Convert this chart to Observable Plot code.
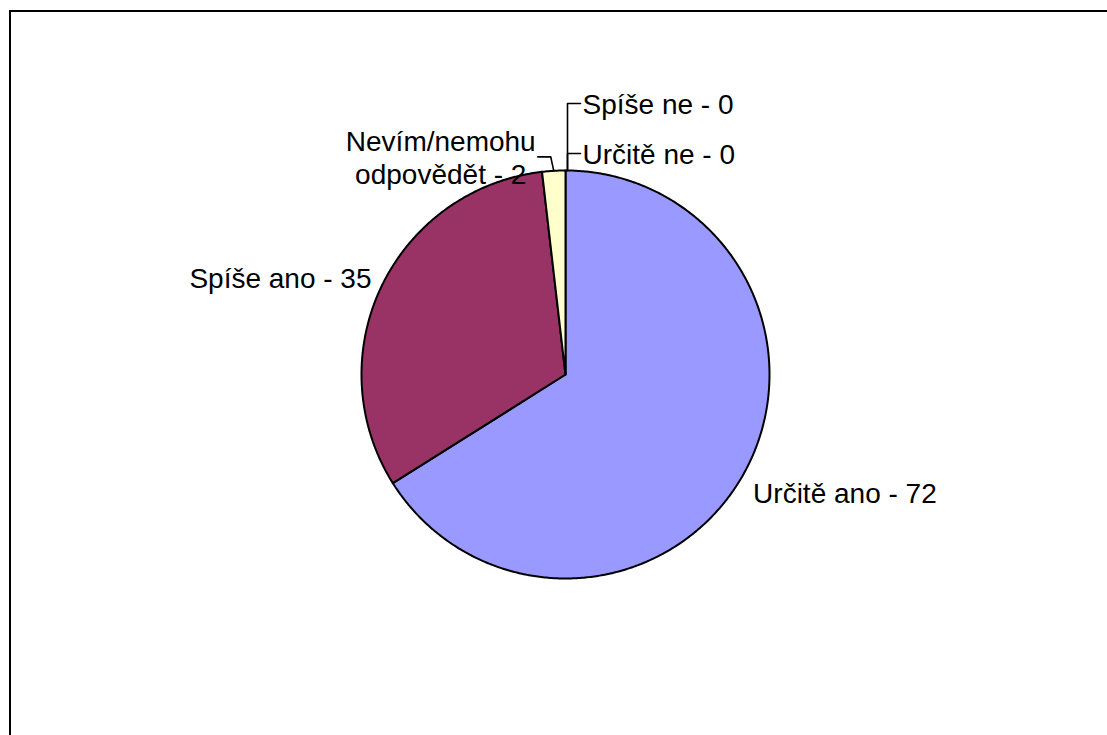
<!DOCTYPE html>
<html>
<head>
<meta charset="utf-8">
<script src="https://cdn.jsdelivr.net/npm/d3@7"></script>
<script src="https://cdn.jsdelivr.net/npm/@observablehq/plot@0.6"></script>
<style>
  html, body { margin: 0; padding: 0; background: #fff; overflow: hidden; }
  #wrap { position: relative; width: 1107px; height: 735px; overflow: hidden; }
  #frame { position: absolute; left: 9px; top: 10px; width: 1200px; height: 800px; border: 2px solid #000; box-sizing: border-box; pointer-events: none; }
  #chart { position: absolute; left: 0; top: 0; }
</style>
</head>
<body>
<div id="wrap"><div id="chart"></div><div id="frame"></div></div>
<script>
// ---- data ----
const categories = ["Určitě ano", "Spíše ano", "Nevím/nemohu odpovědět", "Spíše ne", "Určitě ne"];
const values = [72, 35, 2, 0, 0];
const labelTexts = ["Určitě ano - 72", "Spíše ano - 35", "Nevím/nemohu\nodpovědět - 2", "Spíše ne - 0", "Určitě ne - 0"];
const colors = ["#9999FF", "#993366", "#FFFFCC", "#00FFFF", "#660066"];

// ---- layout (pixels) ----
const W = 1107, H = 735, cx = 565, cy = 374, R = 204;
// label offsets from the slice's outer mid-point, in px
const labelDx = [9, -10, -113, 17, 17];
const labelDy = [19, -9, -14, -67, -17];
const labelAnchor = ["start", "end", "middle", "start", "start"];
// leader bends (px offsets from anchor); null = no leader
const leaderPaths = [
  null,
  null,
  [[0, 0], [-3, -14], [-16, -14]],
  [[2, 0], [2, -67], [15, -67]],
  [[2, 0], [2, -17], [15, -17]]
];

const arcs = d3.pie().sort(null).value(d => d)(values);

const slicePts = [];
arcs.forEach((a, i) => {
  if (a.endAngle - a.startAngle <= 0) return;
  const cat = categories[i];
  slicePts.push({cat, x: 0, y: 0});
  const n = Math.max(2, Math.ceil((a.endAngle - a.startAngle) / (Math.PI / 360)));
  for (let k = 0; k <= n; k++) {
    const t = a.startAngle + (a.endAngle - a.startAngle) * k / n;
    slicePts.push({cat, x: Math.sin(t), y: Math.cos(t)});
  }
  slicePts.push({cat, x: 0, y: 0});
});

const anchors = arcs.map(a => {
  const m = (a.startAngle + a.endAngle) / 2;
  return {x: Math.sin(m), y: Math.cos(m)};
});

const labels = arcs.map((a, i) => ({
  text: labelTexts[i],
  anchor: labelAnchor[i],
  x: anchors[i].x + labelDx[i] / R,
  y: anchors[i].y - labelDy[i] / R
}));

const leaderPts = [];
leaderPaths.forEach((p, i) => {
  if (!p) return;
  p.forEach(([dx, dy]) => leaderPts.push({id: i, x: anchors[i].x + dx / R, y: anchors[i].y - dy / R}));
});

const font = "'Liberation Sans', Arial, sans-serif";
const textOpts = anchor => ({
  filter: d => d.anchor === anchor, x: "x", y: "y", text: "text",
  textAnchor: anchor, fontSize: 28, fill: "#000", lineHeight: 1.2, fontFamily: font
});

const chart = Plot.plot({
  width: W, height: H,
  marginTop: 0, marginRight: 0, marginBottom: 0, marginLeft: 0,
  style: {fontFamily: font, background: "transparent"},
  x: {domain: [-cx / R, (W - cx) / R], axis: null},
  y: {domain: [-(H - cy) / R, cy / R], axis: null},
  color: {domain: categories, range: colors},
  marks: [
    Plot.line(slicePts, {x: "x", y: "y", z: "cat", fill: "cat", stroke: "#000", strokeWidth: 2, strokeLinejoin: "round", curve: "linear"}),
    Plot.line(leaderPts, {x: "x", y: "y", z: "id", stroke: "#000", strokeWidth: 1.6, curve: "linear"}),
    Plot.text(labels, textOpts("start")),
    Plot.text(labels, textOpts("end")),
    Plot.text(labels, textOpts("middle"))
  ]
});
document.getElementById("chart").appendChild(chart);
</script>
</body>
</html>
